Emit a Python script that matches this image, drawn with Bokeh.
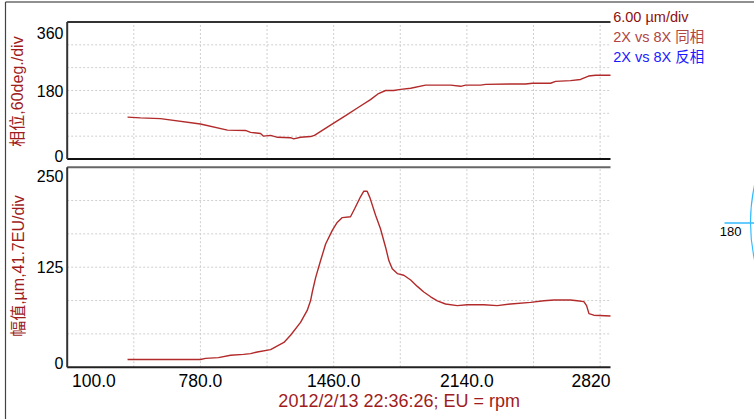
import math
from bokeh.plotting import figure
from bokeh.models import Range1d
from bokeh.core.properties import value
from bokeh.embed import file_html
from bokeh.resources import INLINE

try:
    from bokeh.models import GlobalInlineStyleSheet
    PAGE_CSS = [GlobalInlineStyleSheet(css="html, body { margin: 0 !important; padding: 0; overflow: hidden; }")]
except Exception:
    PAGE_CSS = []

# ---------------- data ----------------
phase_rpm = [408, 474, 576, 780, 918, 1010, 1036, 1087, 1102, 1138, 1174, 1240, 1256, 1291,
             1342, 1362, 1444, 1521, 1587, 1648, 1689, 1725, 1766, 1802, 1853, 1929, 2057,
             2108, 2134, 2210, 2236, 2363, 2439, 2475, 2567, 2593, 2669, 2720, 2761, 2797, 2873]
phase_deg = [110, 108, 106, 92, 76, 75, 70, 67, 60, 62, 57, 56, 53, 57, 59, 62, 89, 114, 136,
             156, 172, 180, 180, 183, 186, 194, 194, 191, 194, 194, 196, 197, 197, 199, 199,
             204, 206, 209, 218, 220, 220]

amp_rpm = [408, 780, 806, 872, 934, 1000, 1036, 1070, 1138, 1206, 1240, 1291, 1325, 1342, 1351,
           1368, 1393, 1419, 1453, 1478, 1504, 1546, 1567, 1597, 1614, 1631, 1645, 1674, 1699,
           1725, 1742, 1759, 1785, 1818, 1853, 1887, 1920, 1955, 1989, 2031, 2091, 2142, 2227,
           2295, 2363, 2465, 2533, 2584, 2669, 2703, 2737, 2751, 2763, 2788, 2873]
amp_um = [9.6, 9.6, 11, 12, 15, 16, 17, 19, 22, 31, 40, 56, 71, 83, 94, 112, 133, 154, 171, 181,
          187, 188, 198, 213, 220, 220, 212, 190, 173, 150, 133, 123, 117, 115, 109, 101, 94, 88,
          83, 79, 77, 78, 78, 77, 79, 81, 83, 84, 84, 83, 82, 77, 67, 65, 64]

x_start, x_end = 100, 2873
x_grid = [440, 780, 1120, 1460, 1800, 2140, 2480, 2820]
x_tick_values = [100, 780, 1460, 2140, 2820]
x_tick_labels = ["100.0", "780.0", "1460.0", "2140.0", "2820"]

phase_max = 360
phase_grid = [60, 120, 180, 240, 300]
phase_tick_labels = ["360", "180", "0"]

amp_max = 250
amp_grid = [250 / 6 * i for i in range(1, 6)]
amp_tick_labels = ["250", "125", "0"]

phase_title = "相位,60deg./div"
amp_title = "幅值,µm,41.7EU/div"
x_title = "2012/2/13 22:36:26; EU = rpm"
legend_texts = ["6.00 µm/div", "2X vs 8X 同相", "2X vs 8X 反相"]
legend_colors = ["#8B1010", "#B04545", "#1A1AFF"]
polar_label = "180"

# ---------------- page geometry (pixels) ----------------
W, H = 754, 419
PLOT_L, PLOT_R = 66.7, 610.0
TOP_T, TOP_B = 21.5, 158.5
BOT_T, BOT_B = 166.7, 366.7

kx = (x_end - x_start) / (PLOT_R - PLOT_L)
kd = phase_max / (TOP_B - TOP_T)
ka = amp_max / (BOT_B - BOT_T)

FONT = value("'Liberation Sans', 'Noto Sans CJK SC', sans-serif")
CURVE = "#B22A2A"
TITLE_C = "#A01C1C"
GRID_C = "#CFCFCF"

p = figure(width=W, height=H, title=None,
           x_range=Range1d(x_start - PLOT_L * kx, x_end + (W - PLOT_R) * kx),
           y_range=Range1d((TOP_B - H) * kd, TOP_B * kd),
           output_backend="svg", toolbar_location=None,
           min_border_left=0, min_border_right=0, min_border_top=0, min_border_bottom=0)
p.extra_y_ranges = {"amp": Range1d((BOT_B - H) * ka, BOT_B * ka), "px": Range1d(H, 0)}
p.extra_x_ranges = {"px": Range1d(0, W)}
p.axis.visible = False
p.grid.visible = False
p.outline_line_color = None
p.background_fill_color = "white"
p.border_fill_color = "white"
p.stylesheets = PAGE_CSS

n = len(x_grid)
# ---- top panel: grid, border, curve ----
p.segment(x_grid, [0] * n, x_grid, [phase_max] * n, line_color=GRID_C, line_dash="2 2")
p.segment([x_start] * len(phase_grid), phase_grid, [x_end] * len(phase_grid), phase_grid,
          line_color=GRID_C, line_dash="2 2")
p.line(phase_rpm, phase_deg, line_color=CURVE, line_width=1.4)
p.segment([x_start, x_start], [phase_max, 0], [x_end, x_end], [phase_max, 0],
          line_color=["#333333", "#111111"], line_width=2)
p.segment([x_start], [0], [x_start], [phase_max], line_color="#333333", line_width=2)

# ---- bottom panel ----
p.segment(x_grid, [0] * n, x_grid, [amp_max] * n, line_color=GRID_C, line_dash="2 2",
          y_range_name="amp")
p.segment([x_start] * len(amp_grid), amp_grid, [x_end] * len(amp_grid), amp_grid,
          line_color=GRID_C, line_dash="2 2", y_range_name="amp")
p.line(amp_rpm, amp_um, line_color=CURVE, line_width=1.4, y_range_name="amp")
p.segment([x_start, x_start], [amp_max, 0], [x_end, x_end], [amp_max, 0],
          line_color=["#666666", "#222222"], line_width=2, y_range_name="amp")
p.segment([x_start], [0], [x_start], [amp_max], line_color="#333333", line_width=2,
          y_range_name="amp")

# ---- tick labels (pixel positions for the clamped ones) ----
TL = dict(text_font=FONT, text_font_size="16px", text_color="black",
          text_align="right", text_baseline="middle")
p.text(x=[63, 63], y=[32, 155], text=[phase_tick_labels[0], phase_tick_labels[2]],
       x_range_name="px", y_range_name="px", **TL)
p.text(x=[x_start - 3.7 * kx], y=[180], text=[phase_tick_labels[1]], **TL)
p.text(x=[63, 63], y=[175, 362.5], text=[amp_tick_labels[0], amp_tick_labels[2]],
       x_range_name="px", y_range_name="px", **TL)
p.text(x=[x_start - 3.7 * kx], y=[125], text=[amp_tick_labels[1]], y_range_name="amp", **TL)

XL = dict(text_font=FONT, text_font_size="17.5px", text_color="black", text_baseline="middle")
p.text(x=[71.5], y=[379.5], text=[x_tick_labels[0]], text_align="left",
       x_range_name="px", y_range_name="px", **XL)
p.text(x=x_tick_values[1:-1], y=[379.5] * 3, text=x_tick_labels[1:-1], text_align="center",
       y_range_name="px", **XL)
p.text(x=[PLOT_R], y=[379.5], text=[x_tick_labels[-1]], text_align="right",
       x_range_name="px", y_range_name="px", **XL)

# ---- axis titles ----
p.text(x=[17, 17.5], y=[91, 265.5], text=[phase_title, amp_title], angle=math.pi / 2,
       text_font=FONT, text_font_size="16px", text_color=TITLE_C,
       text_align="center", text_baseline="middle", x_range_name="px", y_range_name="px")
p.text(x=[398.7], y=[400.5], text=[x_title], text_font=FONT, text_font_size="18px",
       text_color=TITLE_C, text_align="center", text_baseline="middle",
       x_range_name="px", y_range_name="px")

# ---- legend texts ----
p.text(x=[612.7] * 3, y=[16.2, 36.3, 56.7], text=legend_texts, text_color=legend_colors,
       text_font=FONT, text_font_size="14.5px", text_align="left", text_baseline="middle",
       x_range_name="px", y_range_name="px")

# ---- outer frame ----
p.segment([5, 5], [1.5, 1.5], [W, 5], [1.5, H], line_color=["#222222", "#444444"],
          line_width=1.2, x_range_name="px", y_range_name="px")

# ---- polar fragment at the right edge ----
p.circle(x=[925], y=[222], radius=175, fill_color=None, line_color="#33BBFF", line_width=1.2,
         x_range_name="px", y_range_name="px")
p.segment([724], [222.5], [W], [222.5], line_color="#33BBFF", line_width=1.5,
          x_range_name="px", y_range_name="px")
p.text(x=[741], y=[231], text=[polar_label], text_font=FONT, text_font_size="13px",
       text_color="black", text_align="right", text_baseline="middle",
       x_range_name="px", y_range_name="px")

open("out.html", "w").write(file_html(p, INLINE))
